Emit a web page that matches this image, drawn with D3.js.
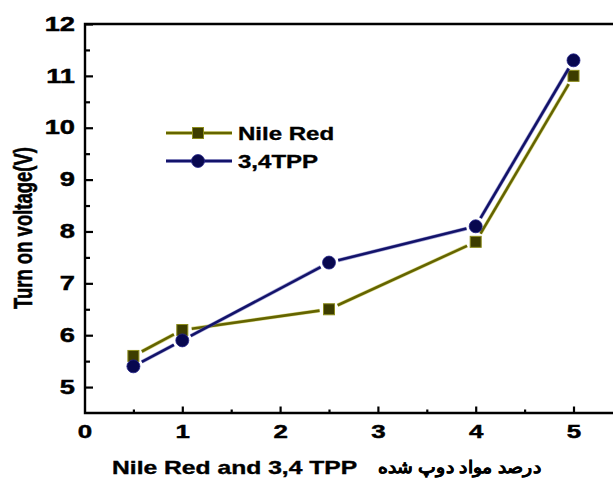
<!DOCTYPE html>
<html>
<head>
<meta charset="utf-8">
<script src="https://cdn.jsdelivr.net/npm/d3@7"></script>
<style>
  html, body { margin: 0; padding: 0; background: #fff; }
  svg { display: block; }
  text { font-family: "Liberation Sans", Arial, sans-serif; font-weight: bold; fill: #000; }
</style>
</head>
<body>
<svg id="chart" width="613" height="478"></svg>
<script>
// Doping concentration (%) and turn-on voltage (V)
const doping = [0.5, 1, 2.5, 4, 5];
const nileRed = [5.6, 6.1, 6.5, 7.8, 11.0];
const tpp = [5.4, 5.9, 7.4, 8.1, 11.3];
const seriesNames = ["Nile Red", "3,4TPP"];
const xTicks = [0, 1, 2, 3, 4, 5];
const xMinor = [0.5, 1.5, 2.5, 3.5, 4.5];
const yTicks = [5, 6, 7, 8, 9, 10, 11, 12];
const yMinor = [5.5, 6.5, 7.5, 8.5, 9.5, 10.5, 11.5];
const xTitle = "Nile Red and 3,4 TPP";
const xTitleFa = "درصد مواد دوپ شده";
const yTitle = "Turn on voltage(V)";

const SX = 1.4; // horizontal text stretch
const svg = d3.select("#chart");

const x = d3.scaleLinear().domain([0, 5.5]).range([84.5, 622.4]);
const y = d3.scaleLinear().domain([4.5, 12]).range([413, 24]);

const frameL = 85, frameR = 640, frameT = 24, frameB = 413;

// heavier glyphs for all labels
function heavy(sel, w = 0.45) {
  sel.attr("stroke", "#000").attr("stroke-width", w).attr("paint-order", "stroke");
}

// frame
svg.append("path")
  .attr("d", `M${frameR},${frameT}H${frameL}V${frameB}H${frameR}`)
  .attr("fill", "none").attr("stroke", "#000").attr("stroke-width", 2.4);

// y axis (ticks pointing inward)
const gy = svg.append("g").attr("transform", `translate(${frameL},0)`);
gy.call(d3.axisLeft(y).tickValues(yTicks).tickSize(-8).tickPadding(10 / SX).tickFormat(d3.format("d")));
gy.select(".domain").remove();
gy.selectAll(".tick line").attr("stroke-width", 2.2);
gy.selectAll(".tick text")
  .attr("font-size", 19.5).attr("font-family", "Liberation Sans, Arial, sans-serif")
  .attr("font-weight", "bold")
  .attr("transform", `scale(${SX},1)`)
  .call(heavy);
const gym = svg.append("g").attr("transform", `translate(${frameL},0)`);
gym.call(d3.axisLeft(y).tickValues(yMinor).tickSize(-5).tickFormat(""));
gym.select(".domain").remove();
gym.selectAll(".tick line").attr("stroke-width", 2.2);

// x axis (ticks pointing inward)
const gx = svg.append("g").attr("transform", `translate(0,${frameB})`);
gx.call(d3.axisBottom(x).tickValues(xTicks).tickSize(-6.5).tickPadding(11.5).tickFormat(d3.format("d")));
gx.select(".domain").remove();
gx.selectAll(".tick line").attr("stroke-width", 2.2);
gx.selectAll(".tick line").filter(d => d === 0).remove();
gx.selectAll(".tick text")
  .attr("font-size", 18.5).attr("font-family", "Liberation Sans, Arial, sans-serif")
  .attr("font-weight", "bold")
  .attr("transform", `scale(${SX},1)`)
  .call(heavy);
const gxm = svg.append("g").attr("transform", `translate(0,${frameB})`);
gxm.call(d3.axisBottom(x).tickValues(xMinor).tickSize(-3.5).tickFormat(""));
gxm.select(".domain").remove();
gxm.selectAll(".tick line").attr("stroke-width", 2.2);

// axis titles
svg.append("text")
  .attr("transform", `translate(23,228) rotate(-90) scale(1,${SX})`)
  .attr("text-anchor", "middle").attr("dy", "0.35em")
  .attr("font-size", 18.5)
  .text(yTitle)
  .call(heavy, 0.4);

svg.append("text")
  .attr("transform", `translate(112,474) scale(1.37,1)`)
  .attr("font-size", 18)
  .text(xTitle)
  .call(heavy, 0.35);

const fa = svg.append("text")
  .attr("font-family", "DejaVu Sans, Noto Sans, sans-serif")
  .attr("font-weight", "bold")
  .attr("font-size", 17)
  .attr("direction", "rtl")
  .attr("text-anchor", "start")
  .text(xTitleFa)
  .call(heavy, 0.3);
{
  const w = fa.node().getComputedTextLength();
  const target = 164;
  fa.attr("transform", `translate(541,473) scale(${target / w},1)`);
}

// series drawing: line segments broken around each marker
const series = [
  { name: seriesNames[0], values: nileRed, line: "#646400", halo: "#c9c94a", fill: "#3d3d00", edge: "#8c8c1c", shape: "square" },
  { name: seriesNames[1], values: tpp, line: "#13136a", halo: "#6b6bb8", fill: "#08084f", edge: "#25258a", shape: "circle" }
];
const gap = 9.5;

function drawMarker(g, cx, cy, s) {
  if (s.shape === "square") {
    g.append("rect").attr("x", cx - 5.5).attr("y", cy - 5.5).attr("width", 11).attr("height", 11)
      .attr("fill", s.fill).attr("stroke", s.edge).attr("stroke-width", 1);
  } else {
    g.append("circle").attr("cx", cx).attr("cy", cy).attr("r", 6.5)
      .attr("fill", s.fill).attr("stroke", s.edge).attr("stroke-width", 0.8);
  }
}

function seg(g, p0, p1, s) {
  g.append("line").attr("x1", p0[0]).attr("y1", p0[1]).attr("x2", p1[0]).attr("y2", p1[1])
    .attr("stroke", s.halo).attr("stroke-width", 3.8).attr("opacity", 0.6);
  g.append("line").attr("x1", p0[0]).attr("y1", p0[1]).attr("x2", p1[0]).attr("y2", p1[1])
    .attr("stroke", s.line).attr("stroke-width", 2.6);
}

series.forEach(s => {
  const g = svg.append("g");
  const pts = doping.map((d, i) => [x(d), y(s.values[i])]);
  d3.pairs(pts).forEach(([a, b]) => {
    const dx = b[0] - a[0], dy = b[1] - a[1];
    const len = Math.hypot(dx, dy);
    const ux = dx / len, uy = dy / len;
    seg(g, [a[0] + ux * gap, a[1] + uy * gap], [b[0] - ux * gap, b[1] - uy * gap], s);
  });
  pts.forEach(p => drawMarker(g, p[0], p[1], s));
});

// legend
const legend = svg.append("g");
series.forEach((s, i) => {
  const ly = 133 + i * 28;
  seg(legend, [166, ly], [232, ly], s);
  drawMarker(legend, 198, ly, s);
  legend.append("text")
    .attr("transform", `translate(238,${ly + 6.5}) scale(1.3,1)`)
    .attr("font-size", 18.5)
    .text(s.name)
    .call(heavy, 0.35);
});
</script>
</body>
</html>
